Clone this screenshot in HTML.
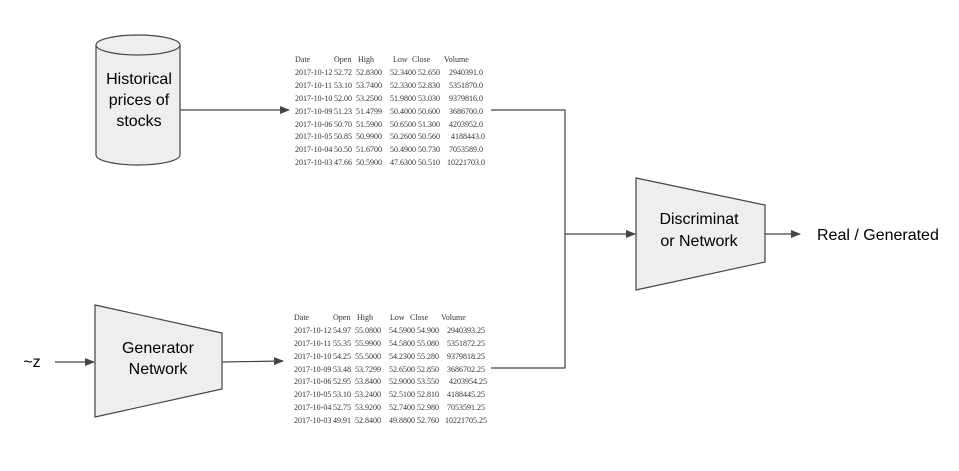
<!DOCTYPE html>
<html><head><meta charset="utf-8"><style>body{margin:0;background:#fff}svg{display:block}</style></head><body>
<svg width="959" height="471" xmlns="http://www.w3.org/2000/svg">
<defs><marker id="a" markerWidth="10" markerHeight="8" refX="9" refY="4" orient="auto" markerUnits="userSpaceOnUse"><path d="M0,0 L10,4 L0,8 z" fill="#444"/></marker></defs>
<g fill="#eeeeee" stroke="#444" stroke-width="1.2">
<path d="M96,45 L96,155 A42,10 0 0 0 180,155 L180,45"/>
<ellipse cx="138" cy="45" rx="42" ry="10"/>
<polygon points="636,178 765,205 765,262 636,290"/>
<polygon points="95,305 222,333 222,389 95,417"/>
</g>
<g stroke="#444" stroke-width="1.2" fill="none">
<line x1="180" y1="110" x2="289" y2="110" marker-end="url(#a)"/>
<polyline points="491,110 565,110 565,368 491,368"/>
<line x1="565" y1="234" x2="635" y2="234" marker-end="url(#a)"/>
<line x1="765" y1="234" x2="800" y2="234" marker-end="url(#a)"/>
<line x1="55" y1="362" x2="94" y2="362" marker-end="url(#a)"/>
<line x1="222" y1="362" x2="283" y2="361" marker-end="url(#a)"/>
</g>
<g font-family="Liberation Sans, sans-serif" font-size="16" fill="#000" text-anchor="middle">
<text x="139" y="84">Historical</text><text x="139" y="105">prices of</text><text x="139" y="126">stocks</text>
<text x="699" y="224">Discriminat</text><text x="699" y="246">or Network</text>
<text x="158" y="353">Generator</text><text x="158" y="374">Network</text>
<text x="817" y="240" text-anchor="start">Real / Generated</text>
<text x="32" y="367">~z</text>
</g>
<g font-family="Liberation Serif, serif" font-size="8" fill="#333">
<text x="295" y="62">Date</text><text x="334" y="62">Open</text><text x="358" y="62">High</text><text x="393" y="62">Low</text><text x="412" y="62">Close</text><text x="444" y="62">Volume</text>
<text y="75"><tspan x="295">2017-10-12</tspan><tspan x="334">52.72</tspan><tspan x="356">52.8300</tspan><tspan x="390">52.3400</tspan><tspan x="418">52.650</tspan><tspan x="449">2940391.0</tspan></text>
<text y="88"><tspan x="295">2017-10-11</tspan><tspan x="334">53.10</tspan><tspan x="356">53.7400</tspan><tspan x="390">52.3300</tspan><tspan x="418">52.830</tspan><tspan x="449">5351870.0</tspan></text>
<text y="101"><tspan x="295">2017-10-10</tspan><tspan x="334">52.00</tspan><tspan x="356">53.2500</tspan><tspan x="390">51.9800</tspan><tspan x="418">53.030</tspan><tspan x="449">9379816.0</tspan></text>
<text y="114"><tspan x="295">2017-10-09</tspan><tspan x="334">51.23</tspan><tspan x="356">51.4799</tspan><tspan x="390">50.4000</tspan><tspan x="418">50.600</tspan><tspan x="449">3686700.0</tspan></text>
<text y="127"><tspan x="295">2017-10-06</tspan><tspan x="334">50.70</tspan><tspan x="356">51.5900</tspan><tspan x="390">50.6500</tspan><tspan x="418">51.300</tspan><tspan x="449">4203952.0</tspan></text>
<text y="139"><tspan x="295">2017-10-05</tspan><tspan x="334">50.85</tspan><tspan x="356">50.9900</tspan><tspan x="390">50.2600</tspan><tspan x="418">50.560</tspan><tspan x="451">4188443.0</tspan></text>
<text y="152"><tspan x="295">2017-10-04</tspan><tspan x="334">50.50</tspan><tspan x="356">51.6700</tspan><tspan x="390">50.4900</tspan><tspan x="418">50.730</tspan><tspan x="449">7053589.0</tspan></text>
<text y="165"><tspan x="295">2017-10-03</tspan><tspan x="334">47.66</tspan><tspan x="356">50.5900</tspan><tspan x="390">47.6300</tspan><tspan x="418">50.510</tspan><tspan x="447">10221703.0</tspan></text>

<text x="294" y="320">Date</text><text x="333" y="320">Open</text><text x="357" y="320">High</text><text x="390" y="320">Low</text><text x="410" y="320">Close</text><text x="441" y="320">Volume</text>
<text y="333"><tspan x="294">2017-10-12</tspan><tspan x="333">54.97</tspan><tspan x="355">55.0800</tspan><tspan x="389">54.5900</tspan><tspan x="417">54.900</tspan><tspan x="447">2940393.25</tspan></text>
<text y="346"><tspan x="294">2017-10-11</tspan><tspan x="333">55.35</tspan><tspan x="355">55.9900</tspan><tspan x="389">54.5800</tspan><tspan x="417">55.080</tspan><tspan x="447">5351872.25</tspan></text>
<text y="359"><tspan x="294">2017-10-10</tspan><tspan x="333">54.25</tspan><tspan x="355">55.5000</tspan><tspan x="389">54.2300</tspan><tspan x="417">55.280</tspan><tspan x="447">9379818.25</tspan></text>
<text y="372"><tspan x="294">2017-10-09</tspan><tspan x="333">53.48</tspan><tspan x="355">53.7299</tspan><tspan x="389">52.6500</tspan><tspan x="417">52.850</tspan><tspan x="447">3686702.25</tspan></text>
<text y="384"><tspan x="294">2017-10-06</tspan><tspan x="333">52.95</tspan><tspan x="355">53.8400</tspan><tspan x="389">52.9000</tspan><tspan x="417">53.550</tspan><tspan x="449">4203954.25</tspan></text>
<text y="397"><tspan x="294">2017-10-05</tspan><tspan x="333">53.10</tspan><tspan x="355">53.2400</tspan><tspan x="389">52.5100</tspan><tspan x="417">52.810</tspan><tspan x="447">4188445.25</tspan></text>
<text y="410"><tspan x="294">2017-10-04</tspan><tspan x="333">52.75</tspan><tspan x="355">53.9200</tspan><tspan x="389">52.7400</tspan><tspan x="417">52.980</tspan><tspan x="447">7053591.25</tspan></text>
<text y="423"><tspan x="294">2017-10-03</tspan><tspan x="333">49.91</tspan><tspan x="355">52.8400</tspan><tspan x="389">49.8800</tspan><tspan x="417">52.760</tspan><tspan x="445">10221705.25</tspan></text>
</g>
</svg>
</body></html>
